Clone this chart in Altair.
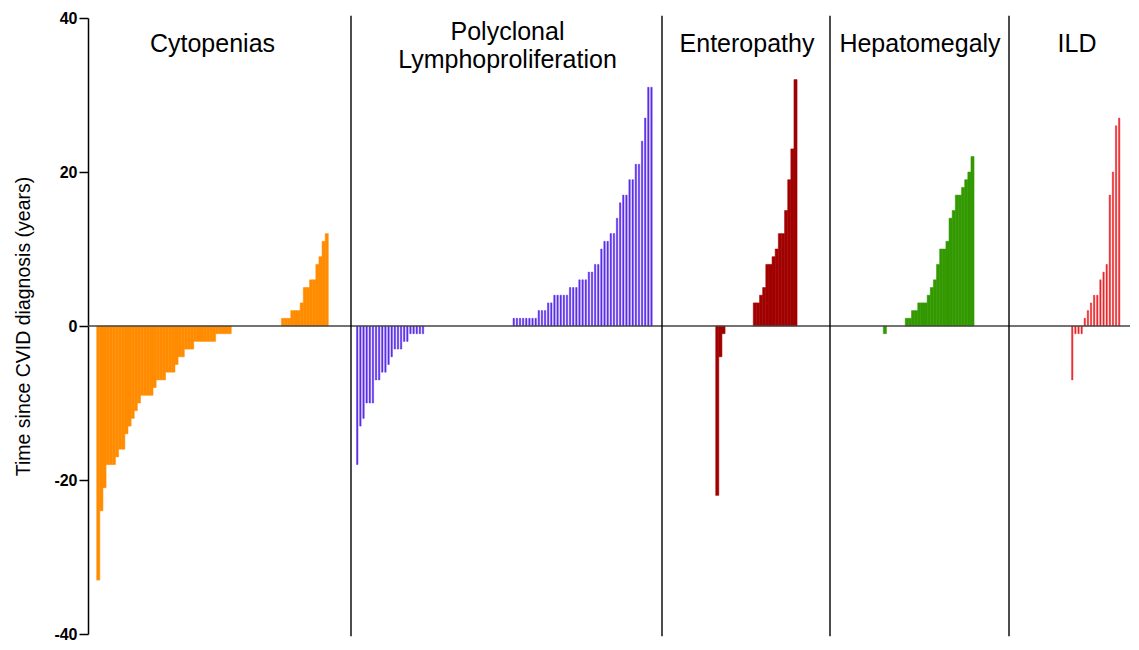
import altair as alt
import pandas as pd

# ---------------- data ----------------
panel_names = ["Cytopenias", "Polyclonal\nLymphoproliferation", "Enteropathy", "Hepatomegaly", "ILD"]
panel_colors = ["#ff8c00", "#5b2ee8", "#a00000", "#339900", "#e8262a"]

cytopenias = [-33, -24, -21, -18, -18, -18, -17, -16, -16, -14, -13, -12, -11, -10,
              -9, -9, -9, -9, -8, -7, -7, -7, -6, -6, -6, -5, -4, -4, -3, -3, -3,
              -2, -2, -2, -2, -2, -2, -2, -1, -1, -1, -1, -1,
              0, 0, 0, 0, 0, 0, 0, 0, 0, 0, 0, 0, 0, 0, 0, 0,
              1, 1, 1, 2, 2, 2, 3, 5, 5, 6, 6, 8, 9, 11, 12]

polyclonal = [-18, -13, -12, -10, -10, -10, -7, -7, -6, -6, -5, -4, -3, -3, -3,
              -2, -2, -1, -1, -1, -1, -1,
              0, 0, 0, 0, 0, 0, 0, 0, 0, 0, 0, 0, 0, 0, 0, 0, 0, 0, 0, 0,
              0, 0, 0, 0, 0, 0, 0, 0,
              1, 1, 1, 1, 1, 1, 1, 1, 2, 2, 2, 3, 3, 4, 4, 4, 4, 4, 5, 5, 5,
              6, 6, 6, 7, 7, 8, 8, 10, 11, 11, 12, 12, 14, 16, 17, 17, 19, 19,
              21, 21, 24, 27, 31, 31]

enteropathy = [-22, -4, -1,
               0, 0, 0, 0, 0, 0, 0, 0, 0,
               3, 3, 4, 5, 8, 8, 9, 10, 12, 12, 15, 19, 23, 32]

hepatomegaly = [-1,
                0, 0, 0, 0, 0, 0,
                1, 1, 2, 2, 3, 3, 3, 4, 5, 6, 8, 10, 10, 11, 14, 15, 17, 17,
                18, 19, 20, 22]

ild = [-7, -1, -1, -1, 1, 2, 3, 4, 4, 6, 7, 8, 17, 20, 26, 27]

series = [cytopenias, polyclonal, enteropathy, hepatomegaly, ild]

y_ticks = [-40, -20, 0, 20, 40]
y_title = "Time since CVID diagnosis (years)"

# ---------------- layout ----------------
PLOT_W, PLOT_H = 1042, 616
SLOT_PX = 3.13                      # one patient per slot
TOTAL = PLOT_W / SLOT_PX
panel_end_px = [263, 574, 742, 921]
first_bar_px = [8.7, 267.7, 627.7, 795.3, 982.7]
bar_fill = [1.0, 0.45, 1.0, 1.0, 0.42]
title_center_px = [124.5, 419.5, 659, 832, 989]
title_y = [36.62, 38.18, 36.62, 36.62, 36.62]
FONT = "Liberation Sans"

rows = []
for p, vals in enumerate(series):
    s0 = first_bar_px[p] / SLOT_PX
    w = bar_fill[p]
    for i, v in enumerate(vals):
        s = s0 + i
        rows.append({"panel": panel_names[p], "x0": s + (1 - w) / 2,
                     "x1": s + (1 + w) / 2, "value": v, "base": 0})
bars_df = pd.DataFrame(rows)

div_df = pd.DataFrame({"x": [e / SLOT_PX for e in panel_end_px],
                       "ytop": [40.3] * 4, "ybot": [-40.3] * 4})

zero_df = pd.DataFrame({"x0": [0.0], "x1": [TOTAL], "y": [0]})

title_df = pd.DataFrame({
    "panel": panel_names,
    "x": [c / SLOT_PX for c in title_center_px],
    "y": title_y,
})

xscale = alt.Scale(domain=[0, TOTAL], nice=False, zero=False, padding=0)
yscale = alt.Scale(domain=[-40, 40], nice=False, padding=0)
cscale = alt.Scale(domain=panel_names, range=panel_colors)

yaxis = alt.Axis(values=y_ticks, title=y_title, grid=False,
                 labelExpr="'' + datum.value",
                 labelFont=FONT, labelFontSize=16, labelFontWeight="bold",
                 labelColor="black", labelPadding=2,
                 tickSize=9, tickColor="black", tickWidth=1.5,
                 domainColor="black", domainWidth=1.5,
                 titleFont=FONT, titleFontSize=19.5, titleFontWeight="normal",
                 titleColor="black", titlePadding=20)

bars = alt.Chart(bars_df).transform_filter("datum.value != 0").mark_bar(
    strokeWidth=0.5
).encode(
    x=alt.X("x0:Q", scale=xscale, axis=None),
    x2="x1:Q",
    y=alt.Y("value:Q", scale=yscale, axis=yaxis),
    y2="base:Q",
    fill=alt.Fill("panel:N", scale=cscale, legend=None),
    stroke=alt.Stroke("panel:N", scale=cscale, legend=None),
)

zero_rule = alt.Chart(zero_df).mark_rule(
    color="#444444", strokeWidth=1.5
).encode(
    y=alt.Y("y:Q", scale=yscale, axis=yaxis),
    x=alt.X("x0:Q", scale=xscale, axis=None),
    x2="x1:Q",
)

dividers = alt.Chart(div_df).mark_rule(color="black", strokeWidth=1.4).encode(
    x=alt.X("x:Q", scale=xscale, axis=None),
    y=alt.Y("ytop:Q", scale=yscale, axis=yaxis),
    y2="ybot:Q",
)

titles = alt.Chart(title_df).mark_text(
    font=FONT, fontSize=25, color="black", align="center", baseline="middle",
    lineBreak="\n", lineHeight=28
).encode(
    x=alt.X("x:Q", scale=xscale, axis=None),
    y=alt.Y("y:Q", scale=yscale, axis=yaxis),
    text="panel:N",
)

chart = alt.layer(bars, zero_rule, dividers, titles).properties(
    width=PLOT_W, height=PLOT_H,
    padding={"left": 80, "top": 10, "right": 1, "bottom": 8},
    autosize=alt.AutoSizeParams(type="none"),
    background="white",
).configure_view(stroke=None)

chart.save("out.html", embed_options={"renderer": "svg", "actions": False})
